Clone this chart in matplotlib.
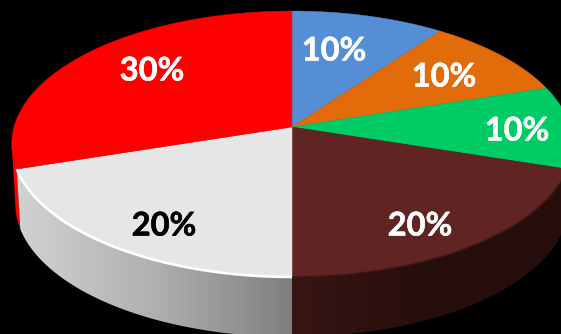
import numpy as np
import matplotlib
matplotlib.use("Agg")
import matplotlib.pyplot as plt
import matplotlib.patheffects as pe
from matplotlib.colors import LinearSegmentedColormap
from matplotlib.patches import Polygon

shares = [10, 10, 10, 20, 20, 30]
top_colors = ["#558ed5", "#e26b0a", "#00cc66", "#602423", "#e6e6e6", "#ff0000"]
label_colors = ["white", "white", "white", "white", "black", "white"]
label_pos = [(334, 51), (444, 77), (517, 131), (420, 226), (164, 226), (152, 71)]

# tilted pie geometry, in pixels
cx, cy = 292, 127
rx, ry = 278, 130.8
tilt = 0.1278
depth = 60
base_scale = 0.987


def rim(theta, scale=1.0, drop=0.0):
    """theta in radians, clockwise from 12 o'clock"""
    x = np.sin(theta)
    y = np.cos(theta)
    w = 1 + tilt * y
    return cx + scale * rx * x / w, cy - ry * y / w + drop


def arc(a0, a1, **kw):
    t = np.linspace(a0, a1, 200)
    return np.column_stack(rim(t, **kw))


def side_shape(a0, a1):
    return np.vstack([arc(a0, a1), arc(a1, a0, scale=base_scale, drop=depth)])


fig = plt.figure(figsize=(5.61, 3.34), dpi=100, facecolor="black")
ax = fig.add_axes([0, 0, 1, 1])

ends = np.cumsum(shares) / sum(shares) * 2 * np.pi
starts = np.r_[0, ends[:-1]]

# walls first, the red one sits behind the light grey one
# it only shows up to the widest point of the rim
red_wall = Polygon(side_shape(starts[5], starts[5] + 0.185), closed=True, fc="#ff0000", ec="none", zorder=1)
ax.add_patch(red_wall)

grey_cmap = LinearSegmentedColormap.from_list("grey_wall", ["#d2d2d2", "#b0b0b0", "#7f7f7f"])
brown_cmap = LinearSegmentedColormap.from_list("brown_wall", ["#381513", "#260e0c", "#260e0c"])
grad = np.linspace(0, 1, 256).reshape(1, -1)

grey_wall = Polygon(side_shape(starts[4], ends[4]), closed=True, fc="none", ec="none")
ax.add_patch(grey_wall)
im = ax.imshow(grad, cmap=grey_cmap, extent=[17, 292, 334, 160], aspect="auto", zorder=2)
im.set_clip_path(grey_wall)

brown_wall = Polygon(side_shape(starts[3], ends[3]), closed=True, fc="none", ec="none")
ax.add_patch(brown_wall)
im = ax.imshow(grad, cmap=brown_cmap, extent=[292, 561, 334, 160], aspect="auto", zorder=2)
im.set_clip_path(brown_wall)

ax.set_xlim(0, 561)
ax.set_ylim(334, 0)
ax.axis("off")

# top faces
for a0, a1, col in zip(starts, ends, top_colors):
    pts = np.vstack([[cx, cy], arc(a0, a1)])
    ax.add_patch(Polygon(pts, closed=True, fc=col, ec=col, lw=0.3, zorder=3))

# light edge along the front of the grey slice, soft dark edge on the brown one
xy = arc(starts[4], ends[4])
ax.plot(xy[:, 0], xy[:, 1], color="white", lw=1.9, zorder=4, solid_capstyle="butt")
xy = arc(starts[3], ends[3])
ax.plot(xy[:, 0], xy[:, 1], color="#3f1715", lw=1.0, zorder=4, solid_capstyle="butt")

for val, col, pos in zip(shares, label_colors, label_pos):
    ax.text(pos[0], pos[1], f"{val}%", color=col, ha="center", va="center",
            family="Lato", weight="bold", fontsize=23.5, zorder=5,
            path_effects=[pe.withStroke(linewidth=0.4, foreground=col)])

fig.savefig("out.png", dpi=100, facecolor="black")
